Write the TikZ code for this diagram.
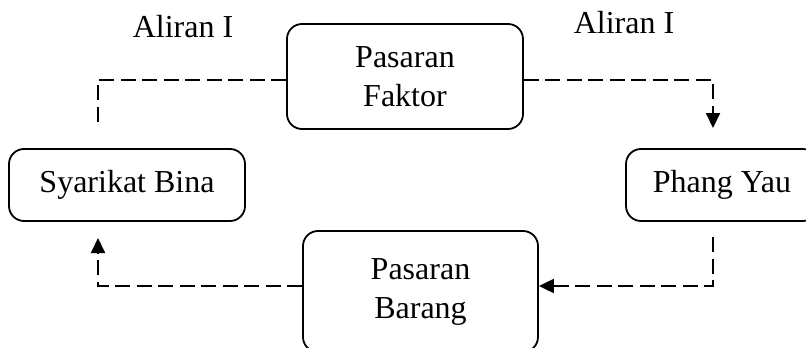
\documentclass[tikz,border=0pt]{standalone}
\usepackage{fontspec}
\setmainfont{Liberation Serif}
\usetikzlibrary{arrows.meta}
\begin{document}
\begin{tikzpicture}[x=1pt,y=-1pt,
  box/.style={draw, rounded corners=15pt, line width=1.8pt, align=center, inner sep=0pt,
    font=\fontsize{32}{39}\selectfont},
  flow/.style={line width=2pt, dash pattern=on 15pt off 6.5pt},
  tip/.style={-{Triangle[length=15pt,width=14pt]}},
  lbl/.style={font=\fontsize{32}{39}\selectfont, anchor=base, inner sep=0pt}]
\useasboundingbox (0,0) rectangle (806,348);
\clip (0,0) rectangle (806,348);
\node[box, minimum width=236pt, minimum height=105pt] (faktor) at (405,76.5) {Pasaran\\Faktor};
\node[box, minimum width=236pt, minimum height=72pt] (syarikat) at (127,185) {Syarikat Bina};
\node[box, minimum width=192pt, minimum height=72pt] (phang) at (722,185) {Phang Yau};
\node[box, minimum width=235pt, minimum height=121pt] (barang) at (420.5,291.5) {Pasaran\\Barang};
\node[lbl] (l1) at (183,37) {Aliran I};
\node[lbl] (l2) at (624,33) {Aliran I};
\coordinate (c1) at (98,128);
\coordinate (c2) at (713,128);
\coordinate (c3) at (713,237);
\coordinate (c4) at (98,238);
\draw[flow] ([yshift=-3.5pt]faktor.west) -| (c1);
\draw[flow,tip] ([yshift=-3.5pt]faktor.east) -| (c2);
\draw[flow,tip] (c3) |- ([yshift=5.5pt]barang.east);
\draw[flow,tip] ([yshift=5.5pt]barang.west) -| (c4);
\end{tikzpicture}
\end{document}
